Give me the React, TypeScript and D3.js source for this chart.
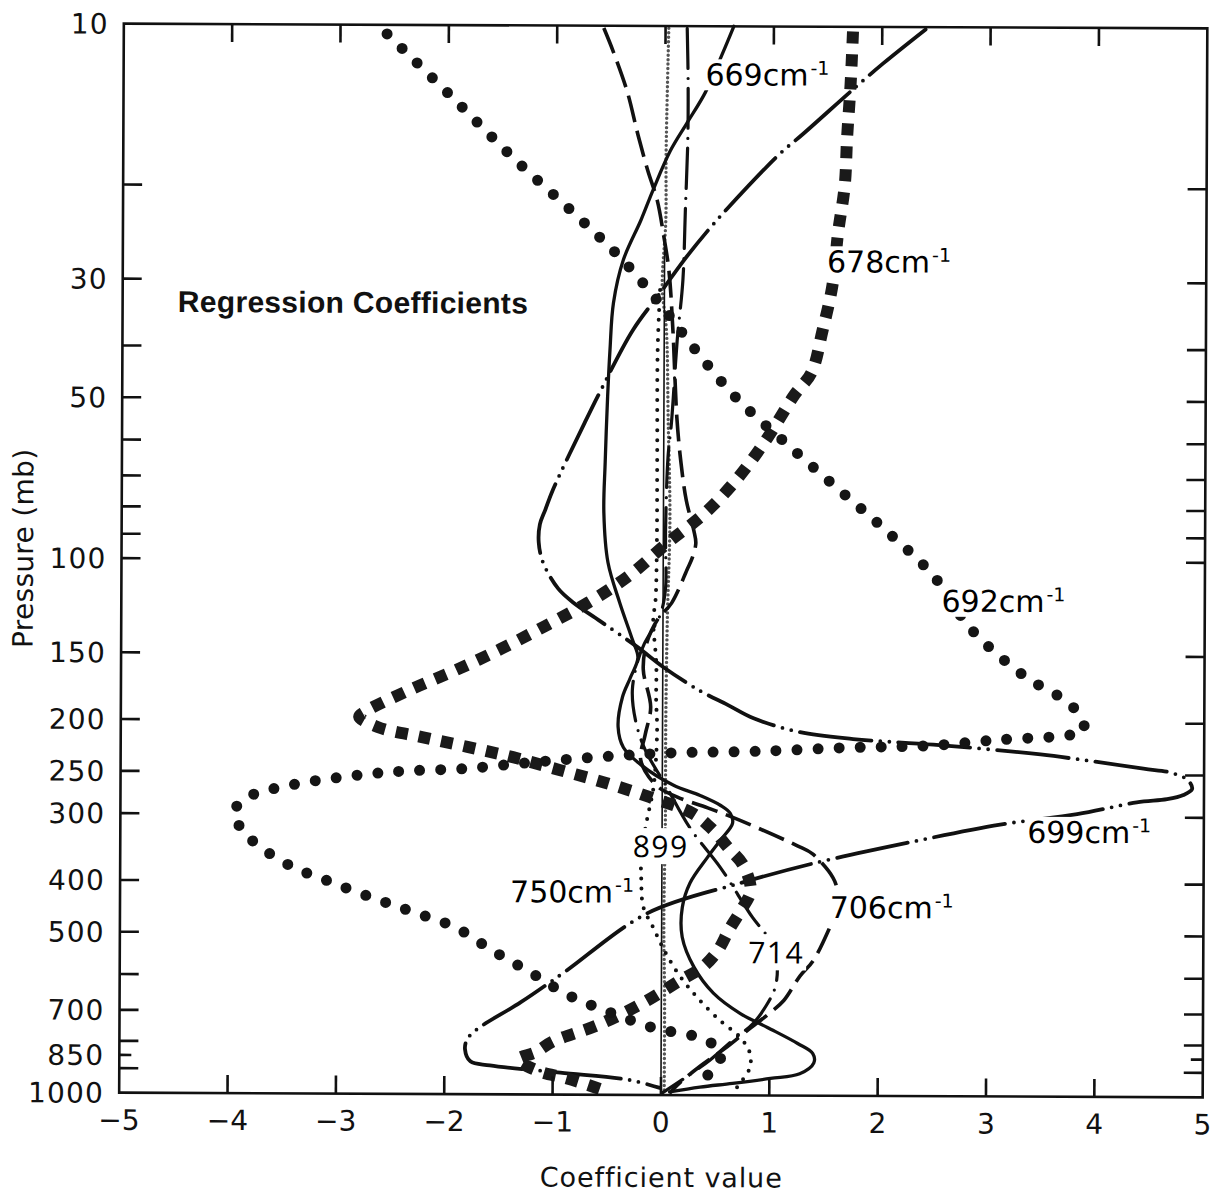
import React, { useEffect, useRef } from 'react';
import * as d3 from 'd3';

const W = 1227;
const H = 1201;

// ---- axis values ----
const X_TICKS = [-5, -4, -3, -2, -1, 0, 1, 2, 3, 4, 5];
const X_INNER_TICKS = [-4, -3, -2, -1, 0, 1, 2, 3, 4];
const P_LABELS = [10, 30, 50, 100, 150, 200, 250, 300, 400, 500, 700, 850, 1000];
const P_TICKS = [20, 30, 40, 50, 60, 70, 80, 90, 100, 150, 200, 250, 300, 400, 500, 600, 700, 800, 850, 900];
const P_SHORT_TICKS = [850];

// ---- series: pressure (mb) and coefficient value ----
const P669 = [10.0, 11.2, 13.3, 15.2, 17.1, 20.3, 23.1, 27.4, 33.0, 40.4, 49.4, 65.7, 81.5, 101, 120, 141, 152, 166, 180, 205, 224, 241, 263, 275, 287, 297, 310, 333, 359, 401, 445, 506, 576, 644, 703, 746, 799, 834, 868, 910, 929, 950, 966, 987];
const C669 = [0.63, 0.53, 0.37, 0.20, 0.05, -0.11, -0.22, -0.38, -0.47, -0.50, -0.52, -0.54, -0.55, -0.51, -0.40, -0.28, -0.23, -0.30, -0.37, -0.41, -0.36, -0.20, 0.10, 0.35, 0.54, 0.63, 0.65, 0.54, 0.42, 0.26, 0.19, 0.19, 0.30, 0.48, 0.73, 0.98, 1.26, 1.40, 1.41, 1.28, 1.01, 0.66, 0.36, 0.08];

const P678 = [10.2, 12.8, 16.1, 19.8, 24.3, 30.5, 37.1, 44.4, 49.0, 58.7, 69.8, 81.2, 92.3, 107, 120, 133, 147, 162, 176, 193, 197, 206, 215, 224, 234, 247, 261, 277, 297, 319, 344, 371, 414, 451, 491, 536, 576, 609, 673, 740, 796, 834, 860, 906, 929, 958, 987];
const C678 = [1.73, 1.71, 1.68, 1.66, 1.60, 1.55, 1.46, 1.36, 1.20, 0.96, 0.69, 0.39, 0.05, -0.32, -0.69, -1.09, -1.50, -1.94, -2.35, -2.75, -2.80, -2.63, -2.22, -1.80, -1.38, -0.95, -0.52, -0.12, 0.28, 0.47, 0.61, 0.75, 0.82, 0.73, 0.62, 0.52, 0.38, 0.18, -0.17, -0.58, -1.00, -1.16, -1.32, -1.12, -0.90, -0.68, -0.49];

const P692 = [10.4, 13.5, 17.7, 22.9, 27.8, 34.3, 39.9, 49.4, 60.0, 72.9, 87.7, 106, 134, 164, 180, 192, 207, 211, 215, 221, 223, 227, 229, 233, 239, 246, 249, 254, 265, 279, 297, 319, 341, 375, 401, 430, 457, 487, 540, 591, 650, 699, 749, 782, 831, 898, 970];
const C692 = [-2.57, -1.99, -1.40, -0.79, -0.36, 0.02, 0.27, 0.66, 1.12, 1.60, 2.06, 2.49, 2.85, 3.35, 3.69, 3.84, 3.89, 3.72, 3.12, 2.45, 1.75, 0.90, 0.10, -0.54, -1.19, -1.82, -2.39, -2.84, -3.43, -3.82, -3.95, -3.89, -3.75, -3.43, -3.07, -2.67, -2.29, -1.91, -1.55, -1.21, -0.87, -0.49, -0.07, 0.36, 0.56, 0.47, 0.31];

const P699 = [10.1, 11.7, 13.0, 15.9, 17.3, 21.9, 24.1, 27.4, 31.6, 37.1, 48.4, 55.3, 73.8, 80.5, 85.8, 92.7, 101, 113, 120, 130, 145, 158, 175, 186, 197, 209, 215, 220, 229, 243, 247, 255, 265, 272, 277, 281, 296, 310, 336, 368, 400, 457, 591, 673, 756, 789, 824, 868, 883, 910, 938, 970];
const C699 = [2.40, 2.01, 1.75, 1.27, 1.06, 0.58, 0.40, 0.18, -0.04, -0.29, -0.59, -0.73, -1.02, -1.09, -1.14, -1.15, -1.11, -0.97, -0.83, -0.58, -0.24, 0.00, 0.34, 0.60, 0.84, 1.27, 1.76, 2.50, 3.49, 4.44, 4.69, 4.85, 4.89, 4.81, 4.66, 4.38, 3.83, 3.12, 2.26, 1.39, 0.74, -0.13, -0.90, -1.30, -1.70, -1.79, -1.81, -1.76, -1.58, -0.93, -0.29, -0.01];

const P706 = [10.1, 11.2, 13.3, 16.0, 18.6, 21.2, 24.6, 28.6, 37.1, 54.1, 65.7, 77.1, 87.7, 92.7, 98.5, 104, 120, 129, 143, 160, 188, 212, 236, 263, 277, 290, 306, 341, 353, 391, 414, 451, 485, 559, 597, 664, 699, 749, 817, 883, 946, 992];
const C706 = [-0.57, -0.48, -0.35, -0.25, -0.16, -0.07, -0.01, 0.04, 0.08, 0.12, 0.16, 0.21, 0.28, 0.30, 0.27, 0.22, 0.08, -0.05, -0.15, -0.18, -0.11, -0.16, -0.20, -0.06, 0.14, 0.42, 0.72, 1.25, 1.39, 1.58, 1.62, 1.61, 1.55, 1.40, 1.28, 1.13, 1.01, 0.82, 0.59, 0.36, 0.18, 0.08];

const P714 = [10.1, 12.6, 16.2, 22.1, 29.9, 38.7, 55.3, 64.0, 87.7, 114, 127, 143, 154, 175, 199, 226, 263, 317, 375, 465, 502, 540, 579, 628, 673, 733, 789, 860, 929, 992];
const C714 = [0.20, 0.21, 0.21, 0.19, 0.17, 0.12, 0.07, 0.04, 0.02, 0.02, -0.03, -0.17, -0.23, -0.28, -0.25, -0.16, 0.03, 0.26, 0.54, 0.84, 0.97, 1.05, 1.07, 1.05, 0.98, 0.85, 0.66, 0.45, 0.22, 0.01];

const P750 = [31.2, 40.4, 62.1, 95.6, 119, 129, 156, 182, 208, 265, 306, 353, 396, 445, 485, 529, 591, 656, 724, 779, 834, 887, 938, 979];
const C750 = [-0.04, -0.06, -0.06, -0.06, -0.07, -0.09, -0.06, -0.06, -0.05, -0.08, -0.14, -0.19, -0.19, -0.17, -0.08, 0.01, 0.15, 0.33, 0.54, 0.73, 0.82, 0.82, 0.75, 0.68];

const P899 = [25, 300, 1000];
const C899 = [0, 0, 0];

const PBEAD = [10.1, 17.3, 23.1, 30.8, 37.1, 54.6, 84.0, 129, 199, 306, 471, 664, 979];
const CBEAD = [0.03, 0.01, 0.01, -0.02, 0.02, 0.04, 0.06, 0.04, 0.03, 0.03, 0.02, 0.03, 0.03];

// ---- curve labels (anchor at start / baseline, in data units) ----
const LABEL_TEXT = ['669', '678', '692', '699', '706', '750', '899', '714'];
const LABEL_C = [0.37, 1.50, 2.57, 3.37, 1.55, -1.40, -0.27, 0.80];
const LABEL_P = [12.9, 28.8, 124, 335, 465, 437, 359, 566];
const LABEL_UNIT = [true, true, true, true, true, true, false, false];

const TITLE = 'Regression Coefficients';
const TITLE_C = -4.49;
const TITLE_P = 34.6;

type Style = { width: number; dash: string; cap: string; color: string };

const SERIES: { p: number[]; c: number[]; style: Style }[] = [
  { p: PBEAD, c: CBEAD, style: { width: 3.4, dash: '0 4.5', cap: 'round', color: '#555' } },
  { p: P899, c: C899, style: { width: 1.6, dash: 'none', cap: 'butt', color: '#111' } },
  { p: P750, c: C750, style: { width: 4, dash: '0 10', cap: 'round', color: '#111' } },
  { p: P714, c: C714, style: { width: 3.2, dash: '40 10 0 10', cap: 'round', color: '#111' } },
  { p: P706, c: C706, style: { width: 3.6, dash: '27 9', cap: 'butt', color: '#111' } },
  { p: P699, c: C699, style: { width: 3.8, dash: '72 9 0 9 0 9', cap: 'round', color: '#111' } },
  { p: P669, c: C669, style: { width: 3.3, dash: 'none', cap: 'round', color: '#111' } },
  { p: P678, c: C678, style: { width: 12, dash: '12 11', cap: 'butt', color: '#1a1a1a' } },
  { p: P692, c: C692, style: { width: 11, dash: '0 21', cap: 'round', color: '#151515' } },
];

const FONT = '"DejaVu Sans", sans-serif';

export default function App() {
  const ref = useRef<SVGSVGElement>(null);

  useEffect(() => {
    const svg = d3.select(ref.current);
    svg.selectAll('*').remove();

    const left = 121.5, right = 1205, top = 26, bottom = 1095;
    const x = d3.scaleLinear().domain([-5, 5]).range([left, right]);
    const y = d3.scaleLog().domain([10, 1000]).range([top, bottom]);

    const g = svg.append('g').attr('transform', 'rotate(0.25 663 560)');

    const line = d3
      .line<[number, number]>()
      .x((d) => x(d[0]))
      .y((d) => y(d[1]))
      .curve(d3.curveCatmullRom.alpha(0.5));

    SERIES.forEach((s) => {
      const pts: [number, number][] = s.c.map((c, i) => [c, s.p[i]]);
      g.append('path')
        .attr('d', line(pts) as string)
        .attr('fill', 'none')
        .attr('stroke', s.style.color)
        .attr('stroke-width', s.style.width)
        .attr('stroke-dasharray', s.style.dash)
        .attr('stroke-linecap', s.style.cap)
        .attr('stroke-linejoin', 'round');
    });

    // frame
    g.append('rect')
      .attr('x', left)
      .attr('y', top)
      .attr('width', right - left)
      .attr('height', bottom - top)
      .attr('fill', 'none')
      .attr('stroke', '#111')
      .attr('stroke-width', 2.6);

    // ticks
    const tk = g.append('g').attr('stroke', '#111').attr('stroke-width', 2.6);
    P_TICKS.forEach((p) => {
      const len = P_SHORT_TICKS.includes(p) ? 12 : 19;
      tk.append('line').attr('x1', left).attr('x2', left + len).attr('y1', y(p)).attr('y2', y(p));
      tk.append('line').attr('x1', right).attr('x2', right - len).attr('y1', y(p)).attr('y2', y(p));
    });
    X_INNER_TICKS.forEach((v) => {
      tk.append('line').attr('x1', x(v)).attr('x2', x(v)).attr('y1', bottom).attr('y2', bottom - 18);
      tk.append('line').attr('x1', x(v)).attr('x2', x(v)).attr('y1', top).attr('y2', top + 18);
    });

    // tick labels
    P_LABELS.forEach((p) => {
      g.append('text')
        .attr('x', left - 15)
        .attr('y', y(p))
        .attr('dy', '0.36em')
        .attr('text-anchor', 'end')
        .attr('font-family', FONT)
        .attr('font-size', 28)
        .attr('letter-spacing', 1.2)
        .attr('fill', '#111')
        .text(String(p));
    });
    X_TICKS.forEach((v) => {
      g.append('text')
        .attr('x', x(v))
        .attr('y', 1132)
        .attr('text-anchor', 'middle')
        .attr('font-family', FONT)
        .attr('font-size', 28)
        .attr('fill', '#111')
        .text(v < 0 ? '\u2212' + Math.abs(v) : String(v));
    });

    // axis titles
    g.append('text')
      .attr('x', 664)
      .attr('y', 1187)
      .attr('text-anchor', 'middle')
      .attr('font-family', FONT)
      .attr('font-size', 27)
      .attr('letter-spacing', 0.9)
      .attr('fill', '#111')
      .text('Coefficient value');
    g.append('text')
      .attr('transform', 'translate(33,551) rotate(-90)')
      .attr('text-anchor', 'middle')
      .attr('font-family', FONT)
      .attr('font-size', 28)
      .attr('letter-spacing', 0.3)
      .attr('fill', '#111')
      .text('Pressure (mb)');

    // title
    g.append('text')
      .attr('x', x(TITLE_C))
      .attr('y', y(TITLE_P))
      .attr('font-family', '"Liberation Sans", Arial, sans-serif')
      .attr('font-weight', 'bold')
      .attr('font-size', 30)
      .attr('letter-spacing', 0.3)
      .attr('fill', '#111')
      .text(TITLE);

    // curve labels with white backing
    LABEL_TEXT.forEach((txt, i) => {
      const unit = LABEL_UNIT[i];
      const t = g
        .append('text')
        .attr('x', x(LABEL_C[i]))
        .attr('y', y(LABEL_P[i]))
        .attr('font-family', unit ? FONT : '"Open Sans", "DejaVu Sans", sans-serif')
        .attr('font-weight', 'normal')
        .attr('font-size', 30)
        .attr('letter-spacing', unit ? 0 : 1.5)
        .attr('fill', '#000');
      t.append('tspan').text(unit ? txt + 'cm' : txt);
      if (unit) {
        t.append('tspan').attr('font-size', 19).attr('dy', -11).attr('dx', 2).text('-1');
      }
      const bb = (t.node() as SVGTextElement).getBBox();
      g.insert('rect', () => t.node() as any)
        .attr('x', bb.x - 2)
        .attr('y', bb.y + 3)
        .attr('width', bb.width + 4)
        .attr('height', bb.height - 5)
        .attr('fill', '#fff');
    });
  }, []);

  return (
    <svg
      ref={ref}
      width={W}
      height={H}
      style={{ position: 'absolute', left: 0, top: 0, background: '#fff' }}
    />
  );
}
